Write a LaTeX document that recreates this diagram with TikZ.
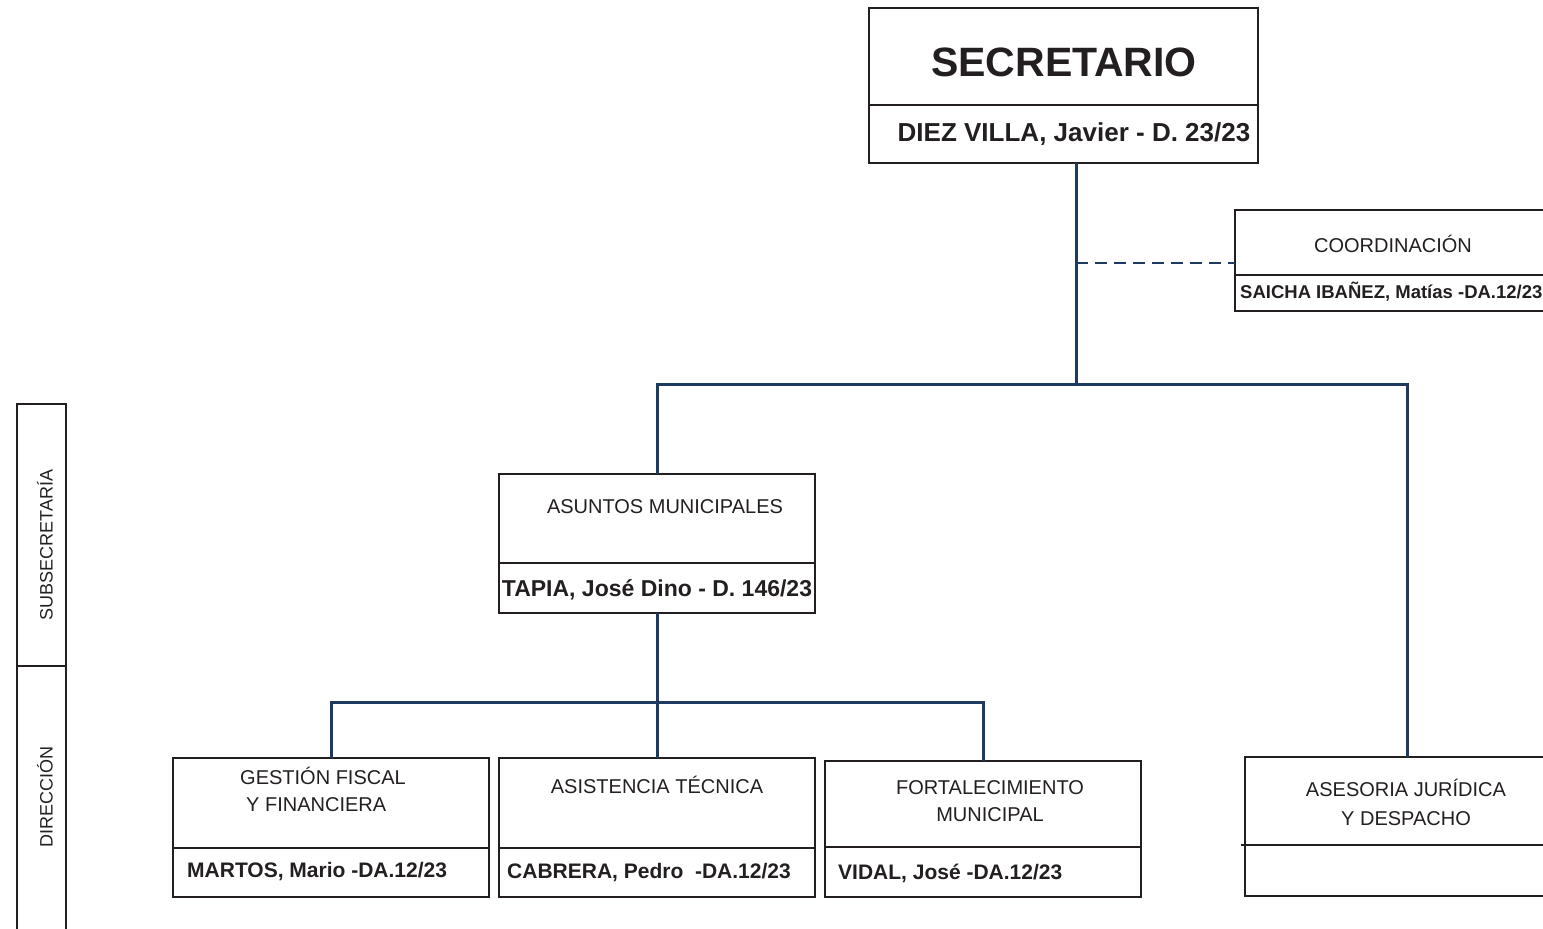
\documentclass[tikz,border=0pt]{standalone}
\usepackage{fontspec}
\setmainfont{Liberation Sans}
\usepackage{xcolor}
\usetikzlibrary{positioning}
\definecolor{navy}{HTML}{1F3A60}
\definecolor{ink}{HTML}{231F20}
\tikzset{>=latex}
\tikzset{
  box/.style={draw=ink,line width=1.4pt,inner sep=0pt,outer sep=0pt,anchor=north west},
  part/.style={draw=ink,line width=1.4pt,inner sep=0pt,outer sep=0pt},
  link/.style={draw=navy,line width=3pt},
  txt/.style={text=ink,inner sep=0pt,font=\fontsize{20}{27}\selectfont,align=center},
  who/.style={text=ink,inner sep=0pt,font=\bfseries\fontsize{21}{25}\selectfont,anchor=west},
  side/.style={text=ink,inner sep=0pt,font=\fontsize{18}{22}\selectfont,rotate=90}
}

\begin{document}
\begin{tikzpicture}[x=1pt,y=-1pt]
  \clip (0,0) rectangle (1543,929);
  \node[box,minimum width=389pt,minimum height=97pt] (secT) at (869,8) {};
  \node[part,minimum width=389pt,minimum height=58pt,below=0pt of secT] (secN) {};
  \node[box,minimum width=340pt,minimum height=65pt] (coT) at (1235,210) {};
  \node[part,minimum width=340pt,minimum height=36pt,below=0pt of coT] (coN) {};
  \node[box,minimum width=316pt,minimum height=89pt] (amT) at (499,474) {};
  \node[part,minimum width=316pt,minimum height=50pt,below=0pt of amT] (amN) {};
  \node[box,minimum width=316pt,minimum height=90pt] (gfT) at (173,758) {};
  \node[part,minimum width=316pt,minimum height=49pt,below=0pt of gfT] (gfN) {};
  \node[box,minimum width=316pt,minimum height=90pt] (atT) at (499,758) {};
  \node[part,minimum width=316pt,minimum height=49pt,below=0pt of atT] (atN) {};
  \node[box,minimum width=316pt,minimum height=86pt] (fmT) at (825,761) {};
  \node[part,minimum width=316pt,minimum height=50pt,below=0pt of fmT] (fmN) {};
  \node[box,minimum width=324pt,minimum height=88pt] (ajT) at (1245,757) {};
  \node[part,minimum width=324pt,minimum height=51pt,below=0pt of ajT] (ajN) {};
  \draw[draw=ink,line width=1.4pt] (ajN.north west) -- ++(-4,0);
  \node[box,minimum width=49pt,minimum height=262pt] (subT) at (17,404) {};
  \node[part,minimum width=49pt,minimum height=300pt,below=0pt of subT] (dirT) {};

  \node[txt,font=\bfseries\fontsize{41}{45}\selectfont] (secTx) at (1064,62) {SECRETARIO};
  \node[who,anchor=center,font=\bfseries\fontsize{26}{30}\selectfont] (secNx) at (1074,134) {DIEZ VILLA, Javier - D. 23/23};
  \node[txt] (coTx) at (1393,244) {COORDINACIÓN};
  \node[who,font=\bfseries\fontsize{18.5}{22}\selectfont] (coNx) at (1240,292) {SAICHA IBAÑEZ, Matías -DA.12/23};
  \node[txt] (amTx) at (665,507) {ASUNTOS MUNICIPALES};
  \node[who,anchor=center,font=\bfseries\fontsize{23}{27}\selectfont] (amNx) at (657,590) {TAPIA, José Dino - D. 146/23};
  \node[txt,align=left,anchor=north west] (gfTx) at (240,767) {GESTIÓN FISCAL\\\hspace*{6pt}Y FINANCIERA};
  \node[who] (gfNx) at (187,872) {MARTOS, Mario -DA.12/23};
  \node[txt] (atTx) at (657,785) {ASISTENCIA TÉCNICA};
  \node[who] (atNx) at (507,873) {CABRERA, Pedro\ \ -DA.12/23};
  \node[txt] (fmTx) at (990,801) {FORTALECIMIENTO\\MUNICIPAL};
  \node[who] (fmNx) at (838,873) {VIDAL, José -DA.12/23};
  \node[txt,font=\fontsize{20}{29}\selectfont] (ajTx) at (1406,802) {ASESORIA JURÍDICA\\Y DESPACHO};
  \node[side] (subTx) at (45,545) {SUBSECRETARÍA};
  \node[side] (dirTx) at (45,797) {DIRECCIÓN};

  \coordinate (jTop) at (1076,384);
  \coordinate (jCo) at (1076,263);
  \coordinate (bus) at (0,702);
  \draw[link] (secN.south -| jTop) -- (jTop);
  \draw[link,dashed,dash pattern=on 12pt off 7pt,line width=2.5pt] (jCo) -- (jCo -| coT.west);
  \draw[link] (amT.north) |- (jTop) -| (ajT.north);
  \draw[link] (amN.south) -- (atT.north);
  \draw[link] (gfT.north) |- (bus -| atT.north) -| (fmT.north);
\end{tikzpicture}
\end{document}
